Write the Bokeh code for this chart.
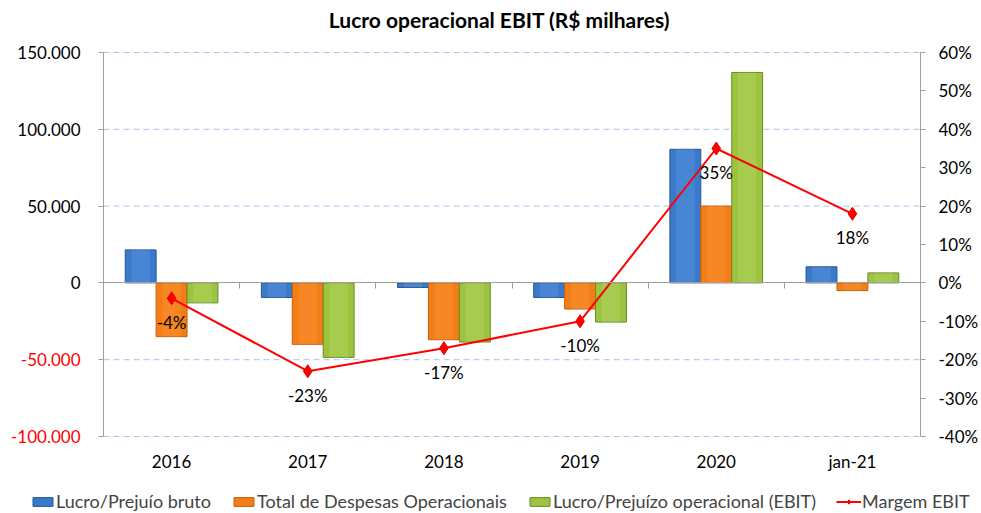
from bokeh.plotting import figure
from bokeh.models import (LinearAxis, Range1d, FixedTicker, Legend, Label,
                          LegendItem, ColumnDataSource, CustomJSTickFormatter)
from bokeh.core.properties import value
from bokeh.transform import dodge
from bokeh.embed import file_html
from bokeh.resources import INLINE

# ---- data ----
categories = ["2016", "2017", "2018", "2019", "2020", "jan-21"]
lucro_bruto = [21500, -9500, -3000, -9500, 87000, 10500]
despesas_oper = [-35000, -40000, -37000, -17000, 50000, -5000]
ebit = [-13000, -48500, -38500, -25500, 137000, 6500]
margem_ebit = [-4, -23, -17, -10, 35, 18]
margem_labels = ["-4%", "-23%", "-17%", "-10%", "35%", "18%"]

left_ticks = [-100000, -50000, 0, 50000, 100000, 150000]
left_tick_labels = ["-100.000", "-50.000", "0", "50.000", "100.000", "150.000"]
right_ticks = [-40, -30, -20, -10, 0, 10, 20, 30, 40, 50, 60]

chart_title = "Lucro operacional EBIT (R$ milhares)"
series_names = ["Lucro/Prejuío bruto", "Total de Despesas Operacionais",
                "Lucro/Prejuízo operacional (EBIT)", "Margem EBIT"]

# ---- layout (pixels) ----
W, H = 981, 513
PL, PR, PT, PB = 103, 920, 52, 436          # plot-area edges on the canvas
TITLE_CX, TITLE_CY = 499, 19
FONT = "Lato"

n = len(categories)
ymin, ymax = left_ticks[0], left_ticks[-1]
pmin, pmax = right_ticks[0], right_ticks[-1]
xu = (PR - PL) / n                           # px per category
yu = (ymax - ymin) / (PB - PT)               # value per px (left)
pu = (pmax - pmin) / (PB - PT)               # value per px (right)

centers = [i + 0.5 for i in range(n)]
bounds = list(range(n + 1))
bw = 0.227

bar_styles = [dict(fill_color="#3a79cb", line_color="#2a5890"),
              dict(fill_color="#f47d15", line_color="#c25f0c"),
              dict(fill_color="#9cc43f", line_color="#6b8a2a")]
bar_highlights = ["#6aa6ea", "#fba04a", "#bddc72"]

# the frame covers the whole canvas; the ranges are padded so the chart area lands at PL..PR, PT..PB
p = figure(width=W, height=H, output_backend="svg", toolbar_location=None, title=None,
           x_axis_type=None, y_axis_type=None,
           x_range=Range1d(-PL / xu, n + (W - PR) / xu),
           y_range=Range1d(ymin - (H - PB) * yu, ymax + PT * yu),
           min_border_left=0, min_border_right=0, min_border_top=0, min_border_bottom=0)
p.outline_line_color = None
p.extra_y_ranges = {"pct": Range1d(pmin - (H - PB) * pu, pmax + PT * pu)}

# dashed horizontal gridlines
grid_vals = [t for t in left_ticks if t != 0]
p.segment(x0=[0] * len(grid_vals), x1=[n] * len(grid_vals), y0=grid_vals, y1=grid_vals,
          line_color="#a9c2ec", line_dash="6 4", line_width=1)

# title
p.add_layout(Label(x=(TITLE_CX - PL) / xu, y=ymax + (PT - TITLE_CY) * yu, text=chart_title,
                   text_align="center", text_baseline="middle", text_font=FONT,
                   text_font_size="21px", text_font_style="bold", text_color="#000000"))

def clean(ax):
    ax.minor_tick_line_color = None
    ax.major_tick_in = 0
    ax.major_label_text_font = FONT
    ax.major_label_text_font_size = "17px"

# left axis: black labels for values >= 0
ya = LinearAxis(fixed_location=0, bounds=(ymin, ymax), ticker=FixedTicker(ticks=left_ticks))
ya.major_label_overrides = {t: (lab if t >= 0 else "") for t, lab in zip(left_ticks, left_tick_labels)}
ya.axis_line_color = "#a0a0a0"
ya.major_tick_line_color = "#a0a0a0"
ya.major_tick_out = 5
ya.major_label_standoff = 18
ya.major_label_text_color = "#000000"
clean(ya)
p.add_layout(ya, "left")

# left axis overlay: red labels for negative values
neg_ticks = [t for t in left_ticks if t < 0]
ya2 = LinearAxis(fixed_location=0, bounds=(ymin, ymax), ticker=FixedTicker(ticks=neg_ticks))
ya2.major_label_overrides = {t: lab for t, lab in zip(left_ticks, left_tick_labels) if t < 0}
ya2.axis_line_color = None
ya2.major_tick_line_color = None
ya2.major_tick_out = 0
ya2.major_label_standoff = 23
ya2.major_label_text_color = "#ff0000"
clean(ya2)
p.add_layout(ya2, "left")

# right axis (percent)
ra = LinearAxis(y_range_name="pct", fixed_location=n, bounds=(pmin, pmax),
                ticker=FixedTicker(ticks=right_ticks),
                formatter=CustomJSTickFormatter(code="return tick.toFixed(0) + '%';"))
ra.axis_line_color = "#a0a0a0"
ra.major_tick_line_color = "#a0a0a0"
ra.major_tick_out = 5
ra.major_label_standoff = 13
ra.major_label_text_color = "#000000"
clean(ra)
p.add_layout(ra, "right")

# category axis on the zero line (boundary ticks, no labels)
za = LinearAxis(fixed_location=0, bounds=(0, n), ticker=FixedTicker(ticks=bounds))
za.major_label_overrides = {b: "" for b in bounds}
za.axis_line_color = "#a0a0a0"
za.major_tick_line_color = "#a0a0a0"
za.major_tick_out = 6
clean(za)
p.add_layout(za, "below")

# category labels along the bottom of the plot area
xa = LinearAxis(fixed_location=ymin, ticker=FixedTicker(ticks=centers))
xa.major_label_overrides = {c: lab for c, lab in zip(centers, categories)}
xa.axis_line_color = None
xa.major_tick_line_color = None
xa.major_tick_out = 0
xa.major_label_standoff = 14
xa.major_label_text_color = "#000000"
clean(xa)
p.add_layout(xa, "below")

# bars
src = ColumnDataSource(dict(x=centers, a=lucro_bruto, b=despesas_oper, c=ebit))
bar_renderers = []
for col, off, st, hi in zip(["a", "b", "c"], [-bw, 0.0, bw], bar_styles, bar_highlights):
    r = p.vbar(x=dodge("x", off), top=col, bottom=0, width=bw, source=src, line_width=1, **st)
    p.vbar(x=dodge("x", off), top=col, bottom=0, width=bw * 0.6, source=src,
           fill_color=hi, fill_alpha=0.3, line_color=None)
    bar_renderers.append(r)

# margin line
msrc = ColumnDataSource(dict(x=centers, m=margem_ebit, lab=margem_labels))
lr = p.line("x", "m", source=msrc, y_range_name="pct", line_color="#ff0000", line_width=2)
sr = p.scatter("x", "m", source=msrc, y_range_name="pct", marker="diamond", size=13,
               fill_color="#ff0000", line_color="#e00000")
p.text("x", "m", text="lab", source=msrc, y_range_name="pct", y_offset=24,
       text_align="center", text_baseline="middle", text_font=value(FONT),
       text_font_size="17px", text_color="#000000")

legend = Legend(items=[LegendItem(label=series_names[0], renderers=[bar_renderers[0]]),
                       LegendItem(label=series_names[1], renderers=[bar_renderers[1]]),
                       LegendItem(label=series_names[2], renderers=[bar_renderers[2]]),
                       LegendItem(label=series_names[3], renderers=[lr, sr])],
                orientation="horizontal", location=(30, 1),
                glyph_width=25, glyph_height=11, label_standoff=1, spacing=20,
                padding=0, margin=0, border_line_alpha=0, background_fill_alpha=0,
                label_text_font=FONT, label_text_font_size="18px", label_height=20)
p.add_layout(legend, "center")

open("out.html", "w").write(file_html(p, INLINE))
